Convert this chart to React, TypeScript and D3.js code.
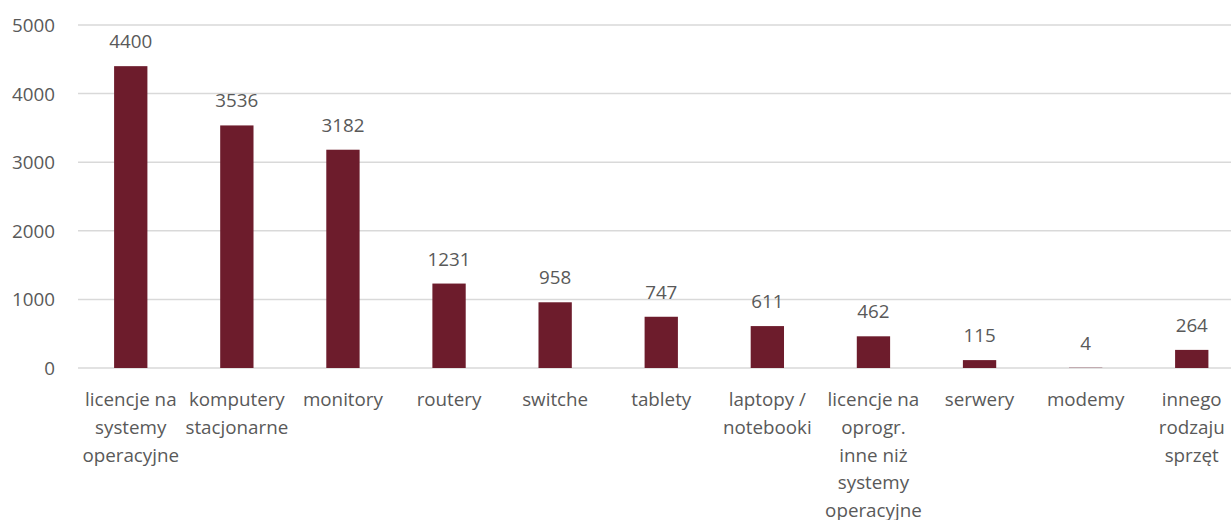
import React from "react";
import * as d3 from "d3";

const categories: string[][] = [
  ["licencje na", "systemy", "operacyjne"],
  ["komputery", "stacjonarne"],
  ["monitory"],
  ["routery"],
  ["switche"],
  ["tablety"],
  ["laptopy /", "notebooki"],
  ["licencje na", "oprogr.", "inne niż", "systemy", "operacyjne"],
  ["serwery"],
  ["modemy"],
  ["innego", "rodzaju", "sprzęt"],
];
const values: number[] = [4400, 3536, 3182, 1231, 958, 747, 611, 462, 115, 4, 264];
const yTicks: number[] = [0, 1000, 2000, 3000, 4000, 5000];

const W = 1231;
const H = 520;
const FONT = "'Segoe UI', 'Open Sans', 'Noto Sans', sans-serif";
const TEXT = "#595959";
const FS = 18.8;

export default function App() {
  const keys = categories.map((_, i) => String(i));
  const x = d3.scaleBand<string>().domain(keys).range([77.7, 1244.8]).padding(0);
  const y = d3.scaleLinear().domain([0, 5000]).range([368, 25]);
  const barW = x.bandwidth() * 0.314;

  return (
    <svg
      width={W}
      height={H}
      style={{ position: "absolute", left: 0, top: 0, background: "#fff" }}
      fontFamily={FONT}
    >
      {yTicks.map((t) => (
        <g key={t}>
          <line x1={78} x2={W} y1={y(t)} y2={y(t)} stroke="#D9D9D9" strokeWidth={1.5} />
          <text
            x={55}
            y={y(t)}
            textAnchor="end"
            dominantBaseline="central"
            fontSize={FS}
            fill={TEXT}
          >
            {t}
          </text>
        </g>
      ))}
      {values.map((v, i) => {
        const cx = (x(keys[i]) as number) + x.bandwidth() / 2;
        return (
          <g key={i}>
            <rect x={cx - barW / 2} y={y(v)} width={barW} height={y(0) - y(v)} fill="#6D1C2C" />
            <text
              x={cx}
              y={y(v) - 25}
              textAnchor="middle"
              dominantBaseline="central"
              fontSize={FS}
              fill={TEXT}
            >
              {v}
            </text>
            {categories[i].map((line, j) => (
              <text
                key={j}
                x={cx}
                y={399 + j * 27.8}
                textAnchor="middle"
                dominantBaseline="central"
                fontSize={FS}
                fill={TEXT}
              >
                {line}
              </text>
            ))}
          </g>
        );
      })}
    </svg>
  );
}
